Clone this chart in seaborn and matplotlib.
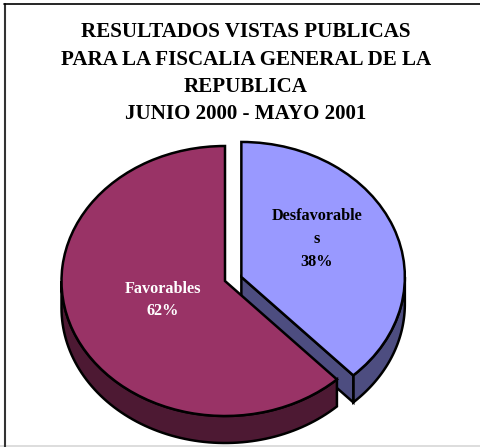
import numpy as np
import matplotlib
matplotlib.use('Agg')
import matplotlib.pyplot as plt
import seaborn as sns
from matplotlib.lines import Line2D
from matplotlib.patches import Polygon, Rectangle

categories = ['Desfavorables', 'Favorables']
shares = [38, 62]
slice_labels = ['Desfavorable\ns\n38%', 'Favorables\n62%']
top_colors = ['#9999FF', '#993366']
side_colors = ['#4D4D80', '#4D1933']
label_colors = ['#000000', '#FFFFFF']
title_lines = ['RESULTADOS VISTAS PUBLICAS', 'PARA LA FISCALIA GENERAL DE LA',
               'REPUBLICA', 'JUNIO 2000 - MAYO 2001']

W, H = 480, 447
rx, ry = 163.5, 135   # pie ellipse radii in px
cx, cy = 225, 281     # centre of the big slice in px
depth = 27 / ry
edge_lw = 1.8


def arc_points(center, t1, t2):
    t = np.radians(np.linspace(t1, t2, 80))
    return np.column_stack([center[0] + np.cos(t), center[1] + np.sin(t)])


def draw_sides(ax, wedge, color):
    # extrusion under the visible part of a slice, in data units
    c, t1, t2 = wedge.center, wedge.theta1, wedge.theta2
    down = np.array([0, depth])
    a, b = max(t1, -180), min(t2, 0)
    if a < b:
        arc = arc_points(c, a, b)
        ax.add_patch(Polygon(np.vstack([arc, (arc - down)[::-1]]), closed=True, fc=color,
                             ec='black', lw=edge_lw, zorder=1))
    # the straight cut face only shows when it looks down and to the left
    if t1 > -90:
        tip = arc_points(c, t1, t1)[0]
        face = [c, tip, tip - down, np.array(c) - down]
        ax.add_patch(Polygon(face, closed=True, fc=color, ec='black', lw=edge_lw, zorder=1))


sns.set_theme(style='white')
plt.rcParams['font.family'] = ['Liberation Serif', 'DejaVu Serif']

fig = plt.figure(figsize=(W / 100, H / 100), dpi=100, facecolor='white')
ax = fig.add_axes([0, 0, 1, 1])
wedges, _ = ax.pie(shares, colors=sns.color_palette(top_colors), startangle=90, counterclock=False,
                   radius=1, wedgeprops=dict(edgecolor='black', linewidth=edge_lw))
wedges[0].set_center((0.1, 0.03))  # pulled-out slice
for w, col in zip(wedges, side_colors):
    w.set_zorder(3)
    draw_sides(ax, w, col)

ax.set_aspect('auto')
ax.set_xlim(-cx / rx, (W - cx) / rx)
ax.set_ylim(-(H - cy) / ry, cy / ry)
ax.axis('off')

# frame of the original picture: only left and top show, plus a pale strip at the bottom
fig.add_artist(Line2D([5 / W, 5 / W], [0, 1 - 4 / H], color='#333333', lw=1.5))
fig.add_artist(Line2D([4 / W, 1], [1 - 4 / H, 1 - 4 / H], color='black', lw=1.2))
fig.add_artist(Rectangle((0, 0), 1, 2 / H, transform=fig.transFigure, fc='#DDDDDD', ec='none'))

for line, y in zip(title_lines, [32, 60, 87, 114]):
    fig.text(246 / W, 1 - y / H, line, ha='center', va='center', fontsize=15.1, fontweight='bold', color='black')

for text, col, (x, y) in zip(slice_labels, label_colors, [(317, 239), (163, 300)]):
    fig.text(x / W, 1 - y / H, text, ha='center', va='center', fontsize=11.7, fontweight='bold',
             color=col, linespacing=1.58, zorder=10)

fig.savefig('out.png', dpi=100)
